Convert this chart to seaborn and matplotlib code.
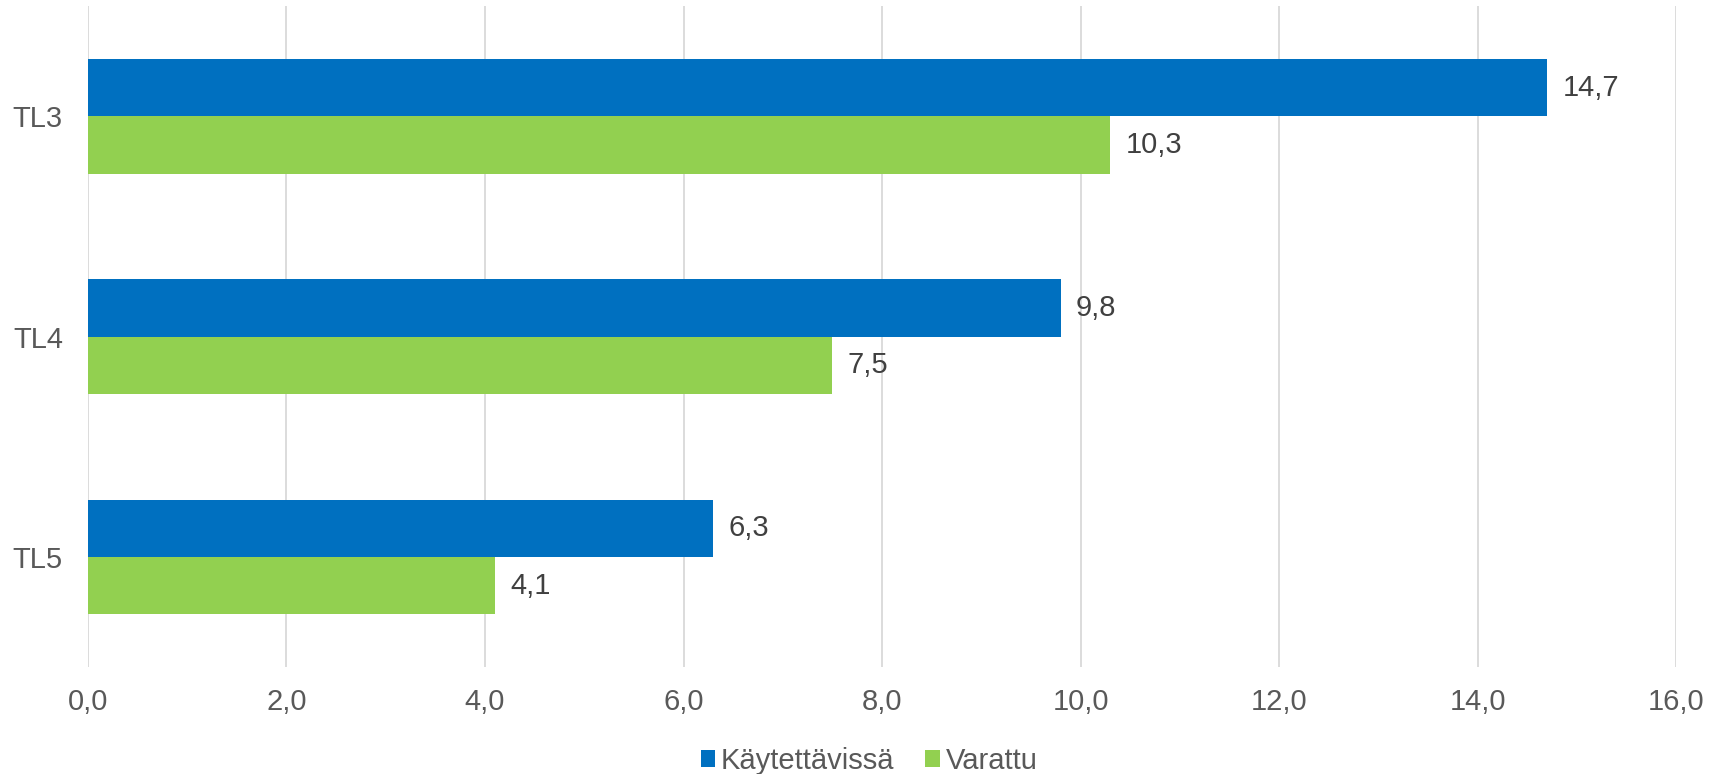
# -*- coding: utf-8 -*-
# Horizontal grouped bars: Käytettävissä vs. Varattu per TL level

import matplotlib
matplotlib.use("Agg")
import matplotlib.pyplot as plt
import pandas as pd
import seaborn as sns

# Data
categories = ["TL3", "TL4", "TL5"]
series_names = ["Käytettävissä", "Varattu"]
available = [14.7, 9.8, 6.3]
reserved = [10.3, 7.5, 4.1]
x_ticks = [0, 2, 4, 6, 8, 10, 12, 14, 16]

colors = ["#0070C0", "#92D050"]

df = pd.DataFrame({
    "taso": categories * 2,
    "sarja": [series_names[0]] * 3 + [series_names[1]] * 3,
    "arvo": available + reserved,
})

sns.set_style("white")
plt.rcParams["font.family"] = ["Liberation Sans", "DejaVu Sans"]

fig = plt.figure(figsize=(17.21, 7.74), dpi=100)
ax = fig.add_axes([0.0511, 0.138, 0.9229, 0.854])

sns.barplot(data=df, y="taso", x="arvo", hue="sarja", orient="h",
            palette=colors, width=0.52, saturation=1, linewidth=0, ax=ax)

# value labels with comma decimals
for cont in ax.containers:
    ax.bar_label(cont, labels=[f"{v:.1f}".replace(".", ",") for v in cont.datavalues],
                 padding=11, fontsize=21, color="#404040")

ax.set_xlim(0, 16)
ax.set_ylim(2.5, -0.5)
ax.set_xticks(x_ticks)
ax.set_xticklabels([f"{t:.1f}".replace(".", ",") for t in x_ticks],
                   fontsize=21, color="#595959")
ax.tick_params(axis="y", labelsize=21, labelcolor="#595959", length=0, pad=18)
ax.tick_params(axis="x", length=0, pad=15)
ax.grid(axis="x", color="#D9D9D9", linewidth=1.3)
ax.set_axisbelow(True)
for s in ax.spines.values():
    s.set_visible(False)
ax.set_xlabel("")
ax.set_ylabel("")

ax.legend(loc="lower center", bbox_to_anchor=(0.505, -0.018), bbox_transform=fig.transFigure,
          ncol=2, frameon=False, borderaxespad=0.05,
          fontsize=21, labelcolor="#595959", handlelength=0.5, handleheight=0.5,
          handletextpad=0.2, columnspacing=1.05)

fig.savefig("out.png", dpi=100)
